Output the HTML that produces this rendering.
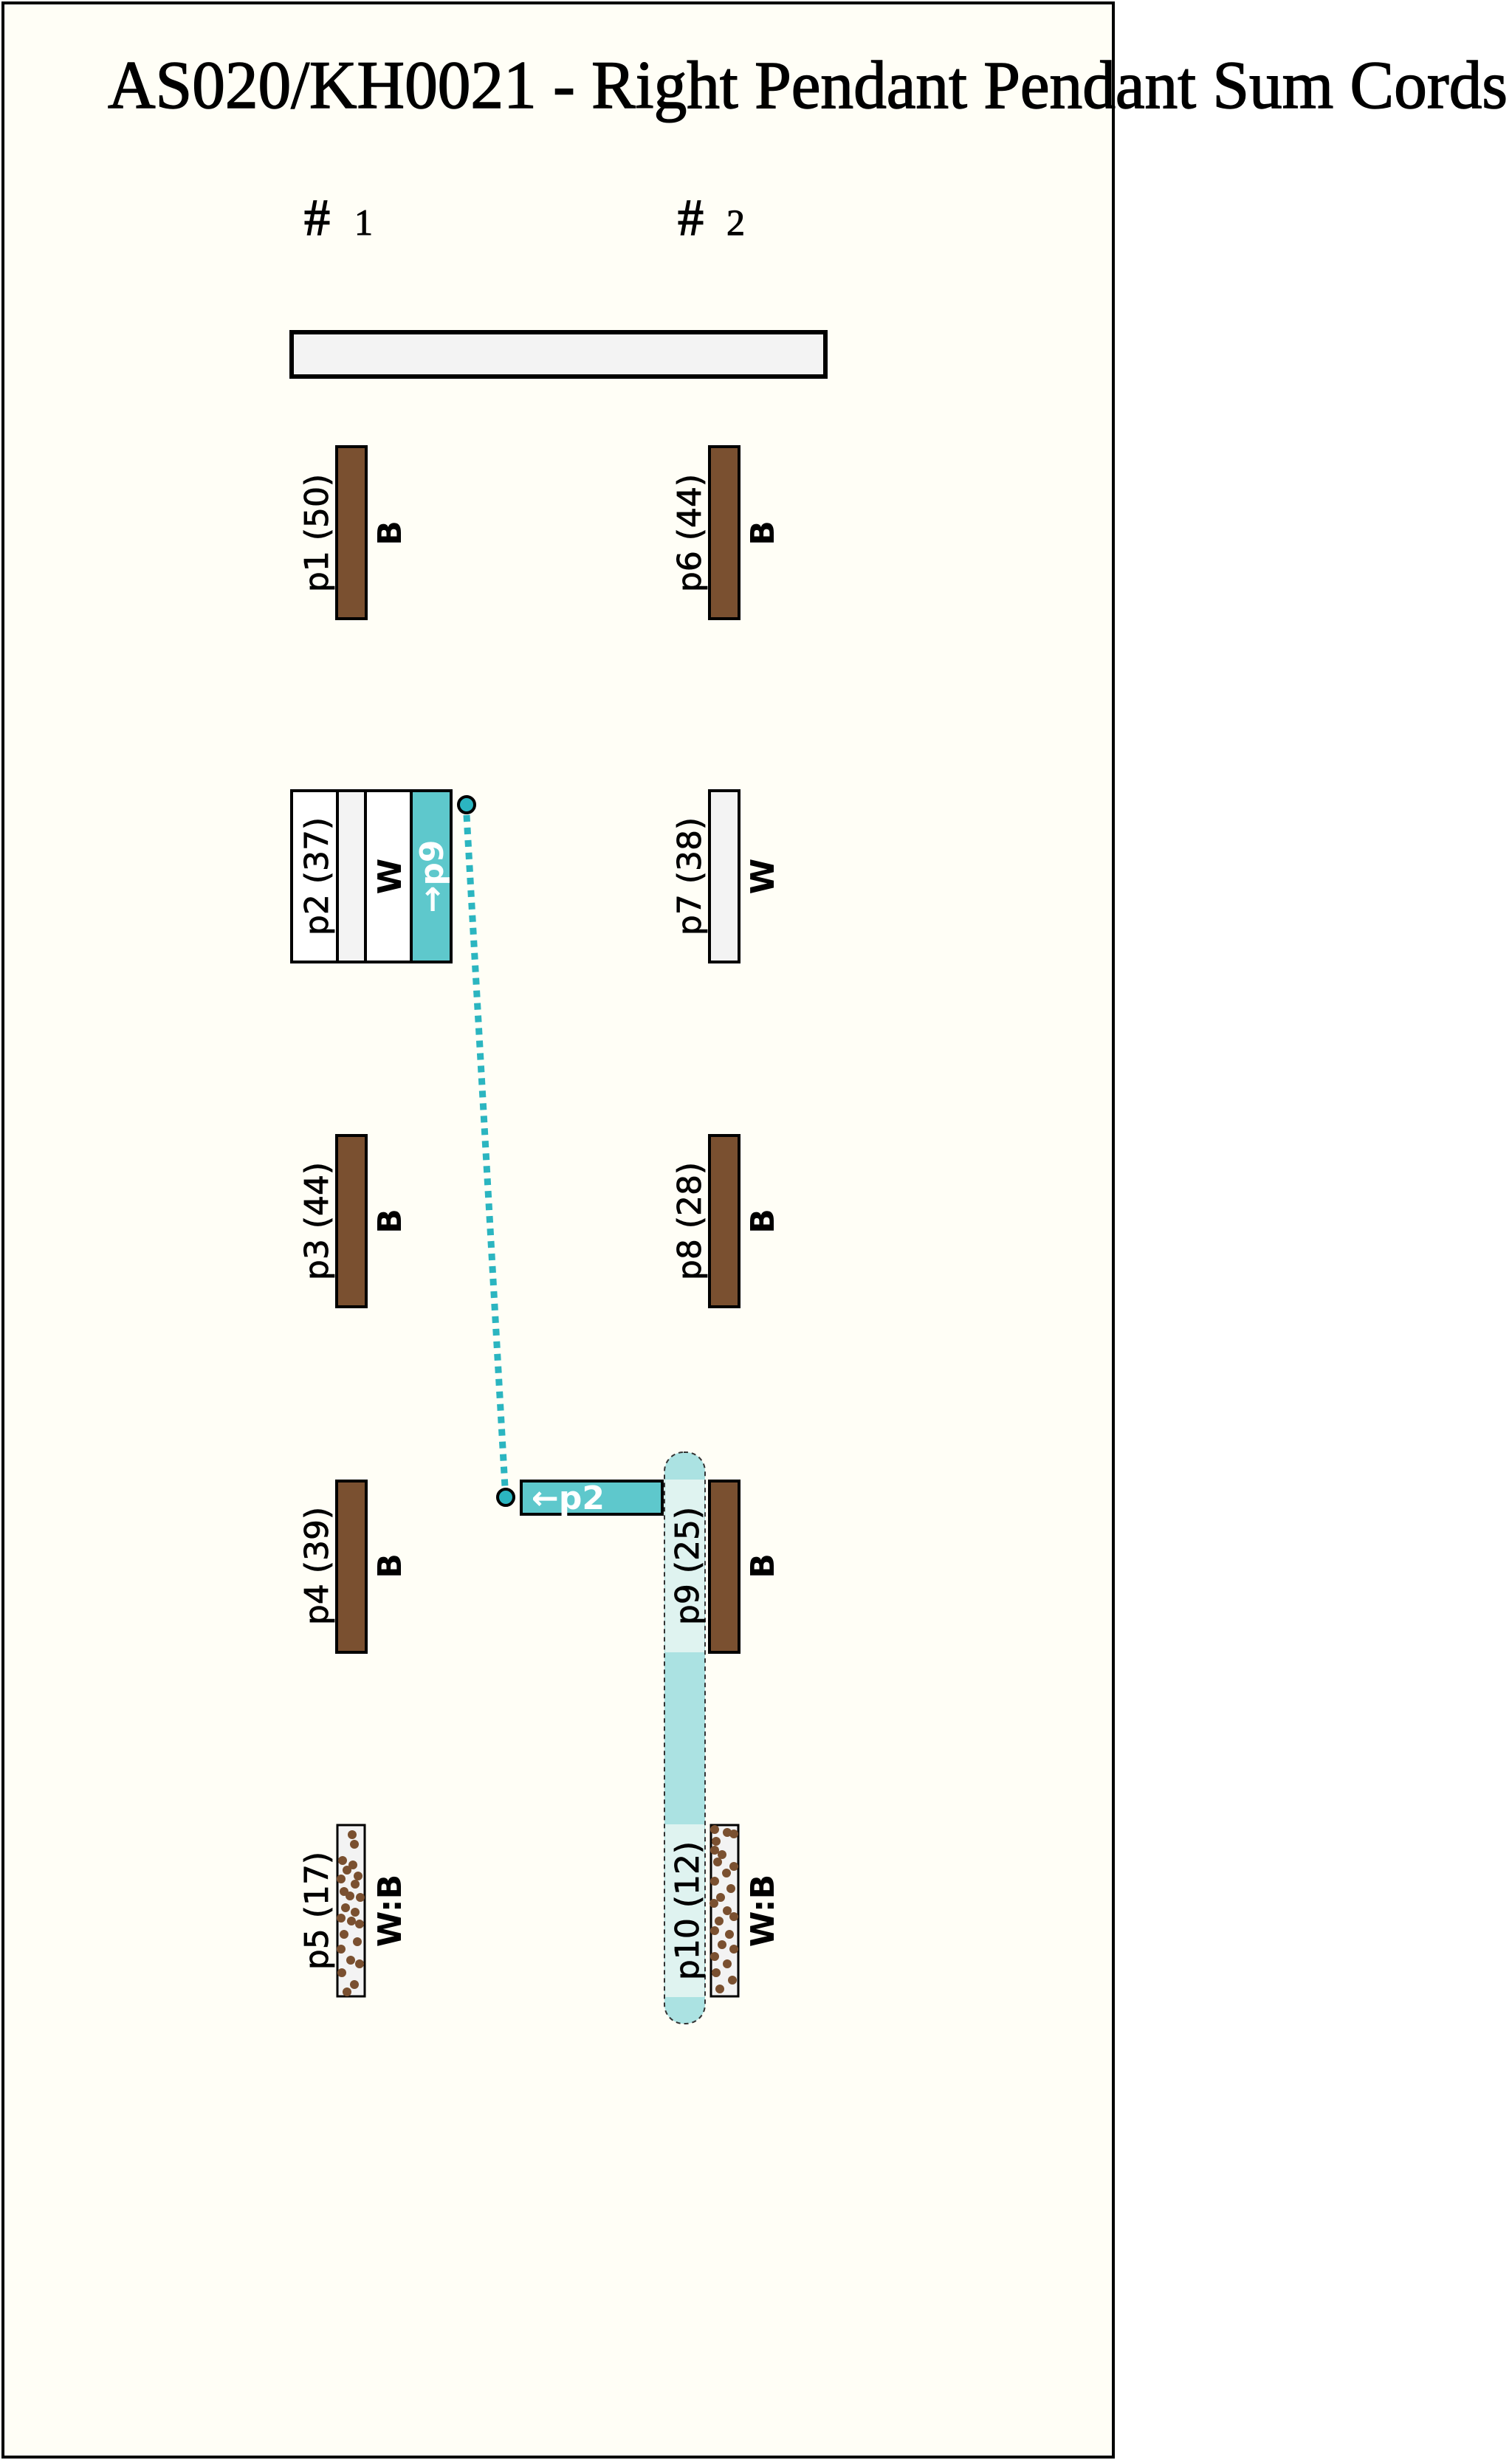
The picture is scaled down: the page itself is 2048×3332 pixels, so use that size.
<!DOCTYPE html>
<html><head><meta charset="utf-8"><style>
html,body{margin:0;padding:0;background:#fff;}
svg{display:block;}
</style></head><body>
<svg width="2048" height="3332" viewBox="0 0 2048 3332" xmlns="http://www.w3.org/2000/svg">
<rect x="0" y="0" width="2048" height="3332" fill="#ffffff"/>
<rect x="4" y="4" width="1504" height="3324" fill="#fffef6" stroke="#000" stroke-width="4"/>
<text x="146" y="146" font-family="Liberation Serif, serif" font-size="92" textLength="1896" lengthAdjust="spacingAndGlyphs" fill="#000" stroke="#000" stroke-width="1.5">AS020/KH0021 - Right Pendant Pendant Sum Cords</text>
<text x="412" y="318" font-family="Liberation Serif, serif" font-size="70" fill="#000" stroke="#000" stroke-width="1.5">#</text>
<text x="480" y="318" font-family="Liberation Serif, serif" font-size="50" fill="#000" stroke="#000" stroke-width="1">1</text>
<text x="918" y="318" font-family="Liberation Serif, serif" font-size="70" fill="#000" stroke="#000" stroke-width="1.5">#</text>
<text x="984" y="318" font-family="Liberation Serif, serif" font-size="50" fill="#000" stroke="#000" stroke-width="1">2</text>

<rect x="395" y="450" width="723" height="60" fill="#f3f3f3" stroke="#000" stroke-width="6"/>

<g font-family="DejaVu Sans, sans-serif" font-size="44" fill="#000">
<rect x="456" y="605" width="40" height="233" fill="#7a5030" stroke="#000" stroke-width="4"/>
<text transform="translate(444,722) rotate(-90)" text-anchor="middle" stroke="#000" stroke-width="0.8">p1 (50)</text>
<text transform="translate(543,722) rotate(-90)" text-anchor="middle" font-weight="bold">B</text>

<rect x="395" y="1071" width="216" height="232" fill="#fff" stroke="#000" stroke-width="4"/>
<rect x="457" y="1071" width="38" height="232" fill="#f3f3f3" stroke="#000" stroke-width="4"/>
<rect x="557" y="1071" width="54" height="232" fill="#5ec8cc" stroke="#000" stroke-width="4"/>
<text transform="translate(444,1187) rotate(-90)" text-anchor="middle" stroke="#000" stroke-width="0.8">p2 (37)</text>
<text transform="translate(543,1187) rotate(-90)" text-anchor="middle" font-weight="bold">W</text>
<text transform="translate(600,1187) rotate(-90)" text-anchor="middle" font-weight="bold" fill="#fff">→p9</text>

<rect x="456" y="1538" width="40" height="232" fill="#7a5030" stroke="#000" stroke-width="4"/>
<text transform="translate(444,1654) rotate(-90)" text-anchor="middle" stroke="#000" stroke-width="0.8">p3 (44)</text>
<text transform="translate(543,1654) rotate(-90)" text-anchor="middle" font-weight="bold">B</text>

<rect x="456" y="2006" width="40" height="232" fill="#7a5030" stroke="#000" stroke-width="4"/>
<text transform="translate(444,2121) rotate(-90)" text-anchor="middle" stroke="#000" stroke-width="0.8">p4 (39)</text>
<text transform="translate(543,2121) rotate(-90)" text-anchor="middle" font-weight="bold">B</text>

<rect x="457" y="2472" width="37" height="232" fill="#f3f3f3" stroke="#000" stroke-width="3"/>
<g fill="#7a5030">
<circle cx="477" cy="2485" r="6"/><circle cx="480" cy="2498" r="6"/><circle cx="464" cy="2520" r="6"/><circle cx="478" cy="2526" r="6"/><circle cx="470" cy="2533" r="6"/><circle cx="462" cy="2545" r="6"/><circle cx="485" cy="2541" r="6"/><circle cx="481" cy="2552" r="6"/><circle cx="466" cy="2562" r="6"/><circle cx="474" cy="2568" r="6"/><circle cx="488" cy="2570" r="6"/><circle cx="468" cy="2584" r="6"/><circle cx="481" cy="2590" r="6"/><circle cx="462" cy="2598" r="6"/><circle cx="476" cy="2602" r="6"/><circle cx="487" cy="2606" r="6"/><circle cx="466" cy="2620" r="6"/><circle cx="484" cy="2630" r="6"/><circle cx="462" cy="2640" r="6"/><circle cx="475" cy="2655" r="6"/><circle cx="487" cy="2660" r="6"/><circle cx="463" cy="2672" r="6"/><circle cx="480" cy="2688" r="6"/><circle cx="470" cy="2698" r="6"/>
</g>
<text transform="translate(444,2588) rotate(-90)" text-anchor="middle" stroke="#000" stroke-width="0.8">p5 (17)</text>
<text transform="translate(543,2588) rotate(-90)" text-anchor="middle" font-weight="bold">W:B</text>

<rect x="900" y="1967" width="55" height="774" rx="26" fill="#abe2e2" stroke="#333" stroke-width="2" stroke-dasharray="6 5"/>
<rect x="901" y="2004" width="53" height="234" fill="#dff3f0"/>
<rect x="901" y="2471" width="53" height="234" fill="#dff3f0"/>

<rect x="961" y="605" width="40" height="233" fill="#7a5030" stroke="#000" stroke-width="4"/>
<text transform="translate(949,722) rotate(-90)" text-anchor="middle" stroke="#000" stroke-width="0.8">p6 (44)</text>
<text transform="translate(1048,722) rotate(-90)" text-anchor="middle" font-weight="bold">B</text>

<rect x="961" y="1071" width="40" height="232" fill="#f3f3f3" stroke="#000" stroke-width="4"/>
<text transform="translate(949,1187) rotate(-90)" text-anchor="middle" stroke="#000" stroke-width="0.8">p7 (38)</text>
<text transform="translate(1048,1187) rotate(-90)" text-anchor="middle" font-weight="bold">W</text>

<rect x="961" y="1538" width="40" height="232" fill="#7a5030" stroke="#000" stroke-width="4"/>
<text transform="translate(949,1654) rotate(-90)" text-anchor="middle" stroke="#000" stroke-width="0.8">p8 (28)</text>
<text transform="translate(1048,1654) rotate(-90)" text-anchor="middle" font-weight="bold">B</text>

<rect x="961" y="2006" width="40" height="232" fill="#7a5030" stroke="#000" stroke-width="4"/>
<text transform="translate(946,2121) rotate(-90)" text-anchor="middle" stroke="#000" stroke-width="0.8">p9 (25)</text>
<text transform="translate(1048,2121) rotate(-90)" text-anchor="middle" font-weight="bold">B</text>

<rect x="963" y="2472" width="37" height="232" fill="#f3f3f3" stroke="#000" stroke-width="3"/>
<g fill="#7a5030">
<circle cx="968" cy="2478" r="6"/><circle cx="985" cy="2482" r="6"/><circle cx="994" cy="2484" r="6"/><circle cx="970" cy="2494" r="6"/><circle cx="968" cy="2506" r="6"/><circle cx="978" cy="2512" r="6"/><circle cx="972" cy="2522" r="6"/><circle cx="994" cy="2528" r="6"/><circle cx="984" cy="2537" r="6"/><circle cx="968" cy="2548" r="6"/><circle cx="990" cy="2558" r="6"/><circle cx="976" cy="2570" r="6"/><circle cx="967" cy="2578" r="6"/><circle cx="985" cy="2588" r="6"/><circle cx="994" cy="2596" r="6"/><circle cx="974" cy="2602" r="6"/><circle cx="968" cy="2615" r="6"/><circle cx="988" cy="2620" r="6"/><circle cx="978" cy="2634" r="6"/><circle cx="994" cy="2640" r="6"/><circle cx="968" cy="2650" r="6"/><circle cx="985" cy="2660" r="6"/><circle cx="970" cy="2672" r="6"/><circle cx="992" cy="2682" r="6"/><circle cx="975" cy="2694" r="6"/>
</g>
<text transform="translate(946,2588) rotate(-90)" text-anchor="middle" stroke="#000" stroke-width="0.8">p10 (12)</text>
<text transform="translate(1048,2588) rotate(-90)" text-anchor="middle" font-weight="bold">W:B</text>

<rect x="706" y="2006" width="191" height="45" fill="#5ec8cc" stroke="#000" stroke-width="4"/>
<text x="720" y="2044" font-weight="bold" fill="#fff">←p2</text>
</g>

<line x1="632" y1="1104" x2="684" y2="2014" stroke="#2bb5c0" stroke-width="9" stroke-dasharray="9 8"/>
<circle cx="632" cy="1090" r="11" fill="#2bb5c0" stroke="#000" stroke-width="4"/>
<circle cx="685" cy="2028" r="11" fill="#2bb5c0" stroke="#000" stroke-width="4"/>
</svg>
</body></html>
